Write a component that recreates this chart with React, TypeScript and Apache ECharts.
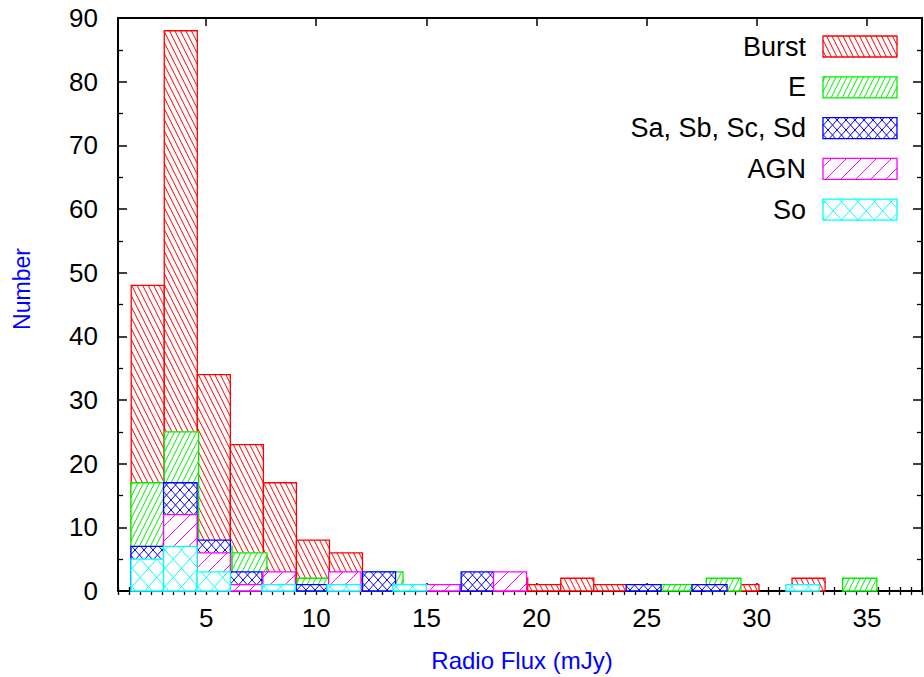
import React, { useEffect, useRef } from "react";
import * as echarts from "echarts";

// ---- data: [binStart, binEnd, count] in mJy ----
const burst: [number, number, number][] = [
  [1.6, 3.1, 48], [3.1, 4.6, 88], [4.6, 6.1, 34], [6.1, 7.6, 23], [7.6, 9.1, 17],
  [9.1, 10.6, 8], [10.6, 12.1, 6], [12.1, 13.6, 2], [16.6, 18.1, 2], [18.1, 19.6, 2],
  [19.6, 21.1, 1], [21.1, 22.6, 2], [22.6, 24.1, 1], [28.6, 30.1, 1], [31.6, 33.1, 2],
];
const ellip: [number, number, number][] = [
  [1.59, 3.07, 17], [3.1, 4.66, 25], [4.66, 6.18, 7], [6.18, 7.76, 6], [9.13, 10.56, 2],
  [12.4, 13.94, 3], [25.65, 27.06, 1], [27.71, 29.28, 2], [33.89, 35.45, 2],
];
const spiral: [number, number, number][] = [
  [1.59, 3.07, 7], [3.07, 4.59, 17], [4.59, 6.1, 8], [6.1, 7.54, 3], [9.09, 10.49, 1],
  [12.1, 13.6, 3], [15.05, 16.58, 1], [16.58, 18.05, 3], [24.07, 25.65, 1], [27.06, 28.65, 1],
];
const agn: [number, number, number][] = [
  [3.07, 4.59, 12], [4.59, 6.1, 6], [6.1, 7.55, 1], [7.58, 9.05, 3], [10.56, 12.03, 3],
  [15.0, 16.52, 1], [18.05, 19.55, 3],
];
const so: [number, number, number][] = [
  [1.59, 3.07, 5], [3.07, 4.59, 7], [4.59, 6.1, 3], [7.54, 9.05, 1], [10.49, 12.0, 1],
  [13.48, 15.0, 1], [31.32, 32.84, 1],
];

const seriesNames = ["Burst", "E", "Sa, Sb, Sc, Sd", "AGN", "So"];
const seriesData = [burst, ellip, spiral, agn, so];
const seriesColors = ["#ff0000", "#00ee00", "#0000ff", "#ff00ff", "#00ffff"];
// hatch families: m = horizontal shift per vertical px, h = horizontal spacing
const hatches: { m: number; h: number }[][] = [
  [{ m: 0.5, h: 5.5 }],
  [{ m: -0.5, h: 5.5 }],
  [{ m: 0.9, h: 9 }, { m: -0.9, h: 9 }],
  [{ m: -1.0, h: 15 }],
  [{ m: 0.9, h: 16.5 }, { m: -0.9, h: 16.5 }],
];

const xTicks = [5, 10, 15, 20, 25, 30, 35];
const X_MIN = 1;
const X_MAX = 37.5;
const Y_MIN = 0;
const Y_MAX = 90;

const FONT = '"Liberation Sans", Arial, Helvetica, sans-serif';

function hatchLines(
  x0: number, y0: number, x1: number, y1: number,
  fams: { m: number; h: number }[], color: string
) {
  const out: any[] = [];
  for (const f of fams) {
    const { m, h } = f;
    const cs = [x0 - m * y0, x0 - m * y1, x1 - m * y0, x1 - m * y1];
    const cmin = Math.min(...cs);
    const cmax = Math.max(...cs);
    for (let c = Math.ceil(cmin / h) * h; c <= cmax; c += h) {
      let ya = (x0 - c) / m;
      let yb = (x1 - c) / m;
      if (ya > yb) { const t = ya; ya = yb; yb = t; }
      const s = Math.max(y0, ya);
      const e = Math.min(y1, yb);
      if (e - s > 0.2) {
        out.push({
          type: "line",
          silent: true,
          shape: { x1: c + m * s, y1: s, x2: c + m * e, y2: e },
          style: { stroke: color, lineWidth: 1 },
        });
      }
    }
  }
  return out;
}

function boxElements(x0: number, y0: number, x1: number, y1: number, idx: number) {
  const color = seriesColors[idx];
  return [
    { type: "rect", silent: true, shape: { x: x0, y: y0, width: x1 - x0, height: y1 - y0 }, style: { fill: "#ffffff", stroke: "none" } },
    ...hatchLines(x0, y0, x1, y1, hatches[idx], color),
    { type: "rect", silent: true, shape: { x: x0, y: y0, width: x1 - x0, height: y1 - y0 }, style: { fill: "none", stroke: color, lineWidth: 1.3 } },
  ];
}

export default function App() {
  const ref = useRef<HTMLDivElement>(null);
  useEffect(() => {
    if (!ref.current) return;
    const chart = echarts.init(ref.current, undefined, { renderer: "svg" });

    const series: any[] = seriesData.map((d, idx) => ({
      type: "custom",
      name: seriesNames[idx],
      xAxisIndex: 0,
      yAxisIndex: 0,
      z: 2 + idx,
      data: d,
      encode: { x: [0, 1], y: 2 },
      renderItem: (params: any, api: any) => {
        const a = api.coord([api.value(0), 0]);
        const b = api.coord([api.value(1), api.value(2)]);
        const x0 = Math.min(a[0], b[0]);
        const x1 = Math.max(a[0], b[0]);
        const y0 = Math.min(a[1], b[1]);
        const y1 = Math.max(a[1], b[1]);
        return { type: "group", children: boxElements(x0, y0, x1, y1, idx) };
      },
    }));

    // legend drawn as graphic
    const legendChildren: any[] = [];
    seriesNames.forEach((n, i) => {
      const cy = 46.5 + 40.8 * i;
      legendChildren.push({
        type: "text",
        style: { text: n, x: 806, y: cy, align: "right", verticalAlign: "middle", font: `27px ${FONT}`, fill: "#000" },
      });
      boxElements(823, cy - 10.5, 897, cy + 10.5, i).forEach((e) => legendChildren.push(e));
    });

    const axisCommon = {
      type: "value",
      min: X_MIN,
      max: X_MAX,
      splitLine: { show: false },
    };

    chart.setOption({
      animation: false,
      backgroundColor: "#ffffff",
      grid: { left: 118, right: 2, top: 18, bottom: 86, containLabel: false },
      xAxis: [
        {
          ...axisCommon,
          position: "bottom",
          axisLine: { show: true, onZero: false, lineStyle: { color: "#000", width: 2 } },
          axisTick: { show: true, inside: true, length: 8, customValues: xTicks, lineStyle: { color: "#000", width: 1.5 } },
          axisLabel: { show: true, customValues: xTicks, margin: 14, color: "#000", fontSize: 26, fontFamily: FONT },
        },
        {
          ...axisCommon,
          position: "bottom",
          interval: 0.5,
          axisLine: { show: false },
          axisTick: { show: true, inside: true, length: 4, lineStyle: { color: "#000", width: 1.3 } },
          axisLabel: { show: false },
        },
        {
          ...axisCommon,
          position: "top",
          axisLine: { show: true, onZero: false, lineStyle: { color: "#000", width: 2 } },
          axisTick: { show: true, inside: true, length: 8, customValues: xTicks, lineStyle: { color: "#000", width: 1.5 } },
          axisLabel: { show: false },
        },
        {
          ...axisCommon,
          position: "top",
          interval: 0.5,
          axisLine: { show: false },
          axisTick: { show: true, inside: true, length: 4, lineStyle: { color: "#000", width: 1.3 } },
          axisLabel: { show: false },
        },
      ],
      yAxis: [
        {
          type: "value",
          min: Y_MIN,
          max: Y_MAX,
          interval: 10,
          position: "left",
          splitLine: { show: false },
          axisLine: { show: true, onZero: false, lineStyle: { color: "#000", width: 2 } },
          axisTick: { show: true, inside: true, length: 9, lineStyle: { color: "#000", width: 1.5 } },
          minorTick: { show: true, splitNumber: 2, length: 5, lineStyle: { color: "#000", width: 1.3 } },
          axisLabel: { show: true, margin: 20, color: "#000", fontSize: 26, fontFamily: FONT },
        },
        {
          type: "value",
          min: Y_MIN,
          max: Y_MAX,
          interval: 10,
          position: "right",
          splitLine: { show: false },
          axisLine: { show: true, onZero: false, lineStyle: { color: "#000", width: 2 } },
          axisTick: { show: true, inside: true, length: 9, lineStyle: { color: "#000", width: 1.5 } },
          minorTick: { show: true, splitNumber: 2, length: 5, lineStyle: { color: "#000", width: 1.3 } },
          axisLabel: { show: false },
        },
      ],
      graphic: [
        {
          type: "text",
          x: 22, y: 289, rotation: Math.PI / 2,
          style: { text: "Number", align: "center", verticalAlign: "middle", font: `23px ${FONT}`, fill: "#0000ff" },
        },
        {
          type: "text",
          x: 522, y: 660,
          style: { text: "Radio Flux (mJy)", align: "center", verticalAlign: "middle", font: `24px ${FONT}`, fill: "#0000ff" },
        },
        { type: "group", z: 100, children: legendChildren },
      ],
      series,
    });
    return () => chart.dispose();
  }, []);
  return <div ref={ref} style={{ position: "fixed", left: 0, top: 0, width: 924, height: 677, background: "#fff" }} />;
}
